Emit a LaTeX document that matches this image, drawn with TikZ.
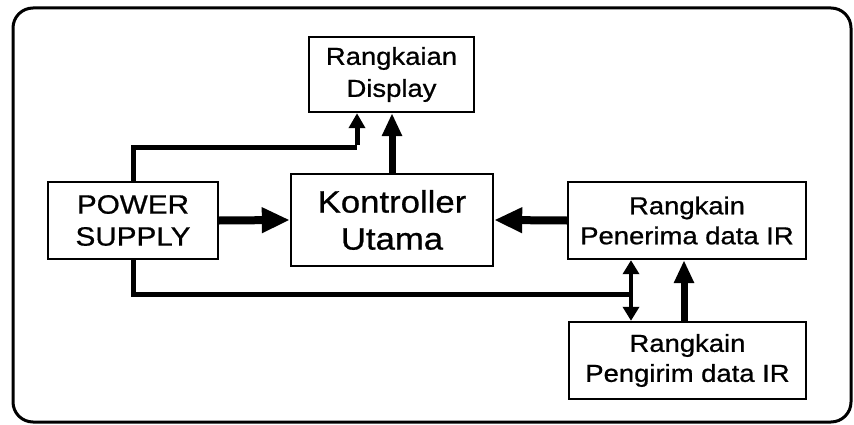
\documentclass[tikz,border=0pt]{standalone}
\usepackage{fontspec}
\setmainfont{Liberation Sans}[FakeStretch=1.12,FakeBold=0.8]
\usetikzlibrary{arrows.meta,calc}
\tikzset{
  blk/.style={draw, line width=2.4pt, align=center, inner sep=0pt},
  pw/.style={line width=5pt},
  big/.style={line width=8pt, -{Triangle[length=28pt,width=24pt]}},
  mid/.style={line width=7pt, -{Triangle[length=23pt,width=19pt]}},
  sm/.style={line width=5pt, -{Triangle[length=15pt,width=16pt]}},
  dbl/.style={line width=4pt, {Triangle[length=14pt,width=16pt]}-{Triangle[length=14pt,width=16pt]}}
}
\begin{document}
\begin{tikzpicture}[x=1pt,y=-1pt]
\useasboundingbox (0,0) rectangle (854,425);
\draw[line width=3pt, rounded corners=20pt] (13,8) rectangle (851,422);
\node[blk, minimum width=165pt, minimum height=75pt, font=\fontsize{24.5}{32}\selectfont] (disp) at (391.5,74.5) {Rangkaian\\Display};
\node[blk, minimum width=170pt, minimum height=77pt, font=\fontsize{26.5}{32}\selectfont] (ps) at (133,220.5) {POWER\\SUPPLY};
\node[blk, minimum width=202pt, minimum height=92pt, font=\fontsize{31}{37}\selectfont] (kon) at (392,220) {Kontroller\\Utama};
\node[blk, minimum width=238pt, minimum height=77pt, font=\fontsize{24.5}{30}\selectfont] (pen) at (687,220.5) {Rangkain\\Penerima data IR};
\node[blk, minimum width=237pt, minimum height=77pt, font=\fontsize{24.5}{30}\selectfont] (pgr) at (687.5,360.5) {Rangkain\\Pengirim data IR};
\coordinate (c1) at (357,148);
\coordinate (c2) at (631,294);
\coordinate (c3) at (684,300);
\draw[pw] ([yshift=-1pt]ps.north) |- (c1);
\draw[sm] ([yshift=2.5pt]c1) -- (c1 |- disp.south);
\draw[mid] (kon.north) -- (kon.north |- disp.south);
\draw[big] (ps.east) -- (kon.west);
\draw[big] (pen.west) -- (kon.east);
\draw[pw] ([yshift=1pt]ps.south) |- (c2);
\draw[dbl] (c2 |- pen.south) -- (c2 |- pgr.north);
\draw[mid] (c3 |- pgr.north) -- (c3 |- pen.south);
\end{tikzpicture}
\end{document}
